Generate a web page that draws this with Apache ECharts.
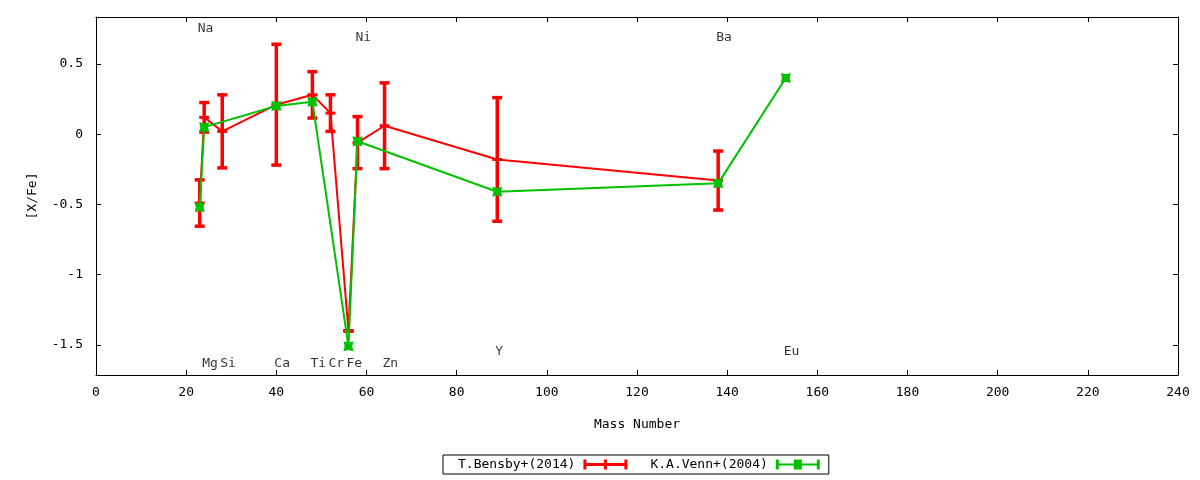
<!DOCTYPE html>
<html>
<head>
<meta charset="utf-8">
<title>[X/Fe] vs Mass Number</title>
<script src="https://cdn.jsdelivr.net/npm/echarts@6/dist/echarts.min.js"></script>
<style>
  html, body { margin: 0; padding: 0; background: #fff; }
  #chart { width: 1200px; height: 480px; }
</style>
</head>
<body>
<div id="chart"></div>
<script>
// --- DATA ---
// T.Bensby+(2014): Na Mg Si Ca Ti Cr Fe Ni Zn Y Ba
const bensbyMass = [23, 24, 28, 40, 48, 52, 56, 58, 64, 89, 138];
const bensbyValue = [-0.49, 0.12, 0.02, 0.21, 0.28, 0.15, -1.40, -0.06, 0.06, -0.18, -0.33];
const bensbyError = [0.165, 0.105, 0.26, 0.43, 0.165, 0.13, 0, 0.185, 0.305, 0.44, 0.21];

// K.A.Venn+(2004): Na Mg Ca Ti Fe Ni Y Ba Eu
const vennMass = [23, 24, 40, 48, 56, 58, 89, 138, 153];
const vennValue = [-0.52, 0.05, 0.20, 0.23, -1.51, -0.05, -0.41, -0.35, 0.40];

// element name labels inside the plot
const labelNames = ['Na', 'Mg', 'Si', 'Ca', 'Ti', 'Cr', 'Fe', 'Ni', 'Zn', 'Y', 'Ba', 'Eu'];
const labelMass = [23, 24, 28, 40, 48, 52, 56, 58, 64, 89, 138, 153];
const labelY = [0.75, -1.635, -1.635, -1.635, -1.635, -1.635, -1.635, 0.69, -1.635, -1.55, 0.69, -1.55];

const xTicks = { min: 0, max: 240, interval: 20 };
const yRange = { min: -1.714, max: 0.834 };

// --- STYLE ---
const FONT = 'DejaVu Sans Mono';
const RED = '#ff0000';
const GREEN = '#00c000';

const chart = echarts.init(document.getElementById('chart'), null, { renderer: 'canvas' });

const errData = bensbyMass.map((m, i) => [m, bensbyValue[i] - bensbyError[i], bensbyValue[i] + bensbyError[i]]);

function renderErrorBar(params, api) {
    const x = api.value(0);
    const top = api.coord([x, api.value(2)]);
    const bot = api.coord([x, api.value(1)]);
    const w = 5;
    const style = { stroke: RED, lineWidth: 3.5 };
    return {
        type: 'group',
        children: [
            { type: 'line', shape: { x1: top[0], y1: top[1], x2: bot[0], y2: bot[1] }, style: style },
            { type: 'line', shape: { x1: top[0] - w, y1: top[1], x2: top[0] + w, y2: top[1] }, style: style },
            { type: 'line', shape: { x1: bot[0] - w, y1: bot[1], x2: bot[0] + w, y2: bot[1] }, style: style }
        ]
    };
}

const axisText = { color: '#000', fontFamily: FONT, fontSize: 13 };
const axisLine = { show: true, onZero: false, lineStyle: { color: '#000', width: 1 } };
const axisTick = { show: true, inside: true, length: 5, lineStyle: { color: '#000', width: 1 } };

const greenMarker = 'path://M0,0 L4,1 L6,1 L10,0 L9,4 L9,6 L10,10 L6,9 L4,9 L0,10 L1,6 L1,4 Z';
const redLegendIcon = 'path://M0,3.5 L44,3.5 L44,6.5 L0,6.5 Z M0,0 L3,0 L3,10 L0,10 Z M20.5,0 L23.5,0 L23.5,10 L20.5,10 Z M41,0 L44,0 L44,10 L41,10 Z';
const greenLegendIcon = 'path://M0,4 L44,4 L44,6 L0,6 Z M0,0 L3,0 L3,10 L0,10 Z M18,0 L26,0 L26,10 L18,10 Z M41,0 L44,0 L44,10 L41,10 Z';

const option = {
    animation: false,
    backgroundColor: '#fff',
    textStyle: { fontFamily: FONT },
    grid: { left: 96, right: 22, top: 17, bottom: 105, containLabel: false },
    legend: {
        left: 443,
        top: 455,
        orient: 'horizontal',
        align: 'right',
        itemWidth: 44,
        itemHeight: 10,
        itemGap: 23,
        padding: [3, 9, 3, 15],
        borderColor: '#000',
        borderWidth: 1,
        borderRadius: 0,
        selectedMode: false,
        textStyle: { color: '#000', fontFamily: FONT, fontSize: 13, padding: [0, 3, 0, 0] },
        data: [
            { name: 'T.Bensby+(2014)', icon: redLegendIcon, itemStyle: { color: RED } },
            { name: 'K.A.Venn+(2004)', icon: greenLegendIcon, itemStyle: { color: GREEN } }
        ]
    },
    xAxis: [
        {
            type: 'value', position: 'bottom',
            min: xTicks.min, max: xTicks.max, interval: xTicks.interval,
            name: 'Mass Number', nameLocation: 'middle', nameGap: 43,
            nameTextStyle: axisText,
            axisLine: axisLine, axisTick: axisTick,
            axisLabel: Object.assign({ margin: 11 }, axisText),
            splitLine: { show: false }
        },
        {
            type: 'value', position: 'top',
            min: xTicks.min, max: xTicks.max, interval: xTicks.interval,
            axisLine: axisLine, axisTick: axisTick,
            axisLabel: { show: false }, splitLine: { show: false }
        }
    ],
    yAxis: [
        {
            type: 'value', position: 'left',
            min: yRange.min, max: yRange.max,
            name: '[X/Fe]', nameLocation: 'middle', nameGap: 57,
            nameTextStyle: axisText,
            axisLine: axisLine, axisTick: axisTick,
            axisLabel: Object.assign({ margin: 13, showMinLabel: false, showMaxLabel: false }, axisText),
            splitLine: { show: false }
        },
        {
            type: 'value', position: 'right',
            min: yRange.min, max: yRange.max,
            axisLine: axisLine, axisTick: axisTick,
            axisLabel: { show: false }, splitLine: { show: false }
        }
    ],
    series: [
        {
            name: 'bensby-err',
            type: 'custom',
            renderItem: renderErrorBar,
            encode: { x: 0, y: [1, 2] },
            data: errData,
            silent: true,
            z: 3
        },
        {
            name: 'T.Bensby+(2014)',
            type: 'line',
            data: bensbyMass.map((m, i) => [m, bensbyValue[i]]),
            lineStyle: { color: RED, width: 2 },
            itemStyle: { color: RED },
            symbol: 'rect',
            symbolSize: [10, 3],
            showAllSymbol: true,
            z: 4
        },
        {
            name: 'K.A.Venn+(2004)',
            type: 'line',
            data: vennMass.map((m, i) => [m, vennValue[i]]),
            lineStyle: { color: GREEN, width: 2 },
            itemStyle: { color: GREEN },
            symbol: greenMarker,
            symbolSize: 10,
            showAllSymbol: true,
            z: 5
        },
        {
            name: 'labels',
            type: 'scatter',
            data: labelMass.map((m, i) => [m, labelY[i], labelNames[i]]),
            symbolSize: 0,
            silent: true,
            label: {
                show: true,
                position: 'right',
                distance: 0,
                offset: [-2, 0],
                formatter: p => p.value[2],
                color: '#000',
                fontFamily: FONT,
                fontSize: 13
            },
            z: 6
        }
    ]
};

chart.setOption(option);
</script>
</body>
</html>
